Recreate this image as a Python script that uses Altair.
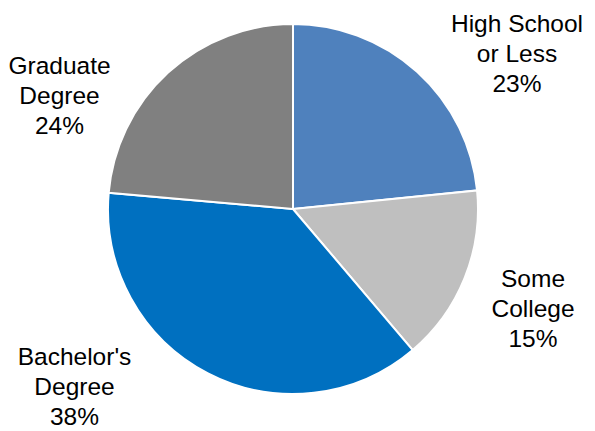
import altair as alt
import pandas as pd

categories = ["High School or Less", "Some College", "Bachelor's Degree", "Graduate Degree"]
label_lines = ["High School\nor Less", "Some\nCollege", "Bachelor's\nDegree", "Graduate\nDegree"]
shares = [23.4, 15.4, 37.6, 23.6]
colors = ["#4F81BD", "#BFBFBF", "#0070C0", "#808080"]

df = pd.DataFrame({
    "category": categories,
    "share": shares,
    "order": list(range(len(categories))),
})

W, H = 579, 423
CX, CY, R = 285, 201, 185
FONT = "Liberation Sans"

pie = alt.Chart(df).mark_arc(outerRadius=R, stroke="white", strokeWidth=2).encode(
    theta=alt.Theta("share:Q", stack=True),
    order=alt.Order("order:Q", sort="ascending"),
    color=alt.Color("category:N", scale=alt.Scale(domain=categories, range=colors), legend=None),
    x=alt.value(CX),
    y=alt.value(CY),
)

# label anchor positions (layout only): x center, first-line baseline
label_layout = [(509, 24), (525, 279), (66.5, 357), (51.5, 66)]

layers = [pie]
for i, (lx, ly) in enumerate(label_layout):
    t = alt.Chart(df).transform_filter(
        alt.datum.order == i
    ).mark_text(
        font=FONT, fontSize=24.5, lineHeight=30, align="center",
        baseline="alphabetic", color="black", lineBreak="\n"
    ).encode(
        x=alt.value(lx), y=alt.value(ly),
        text=alt.value(label_lines[i] + "\n" + str(round(shares[i])) + "%"),
    )
    layers.append(t)

chart = alt.layer(*layers).properties(
    width=W, height=H, autosize=alt.AutoSizeParams(type="none"), padding=0
).configure_view(stroke=None)

chart.save("out.html", embed_options={"renderer": "svg", "actions": False})
